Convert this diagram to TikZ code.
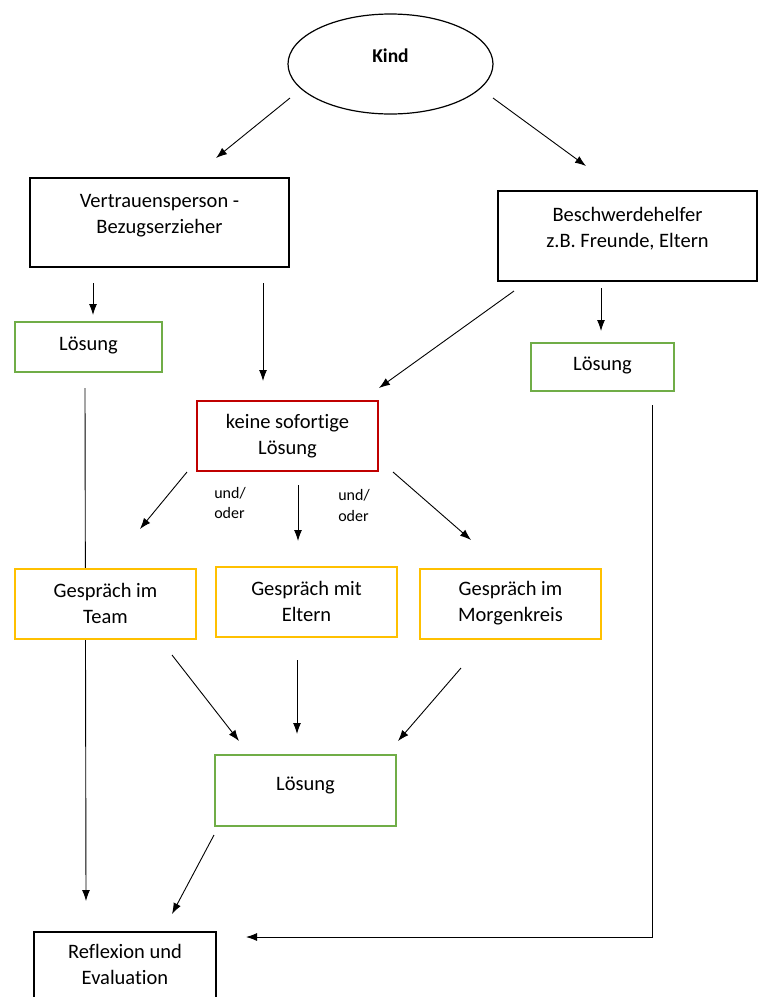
\documentclass[tikz,border=0pt]{standalone}
\usepackage{fontspec}
\setmainfont{Carlito}[Ligatures=NoCommon]
\usetikzlibrary{arrows.meta,shapes.geometric}
\definecolor{cgreen}{RGB}{112,173,71}
\definecolor{cgold}{RGB}{255,192,0}
\definecolor{cred}{RGB}{192,0,0}
\begin{document}
\begin{tikzpicture}[x=1pt,y=-1pt,
  bbox/.style={draw=black,line width=1.2pt,fill=white,inner sep=0pt},
  gbox/.style={draw=cgreen,line width=2.5pt,fill=white,inner sep=0pt},
  ybox/.style={draw=cgold,line width=2.5pt,fill=white,inner sep=0pt},
  rbox/.style={draw=cred,line width=2.3pt,fill=white,inner sep=0pt},
  txt/.style={font=\fontsize{20.5}{26}\selectfont,align=center,inner sep=0pt},
  smalltxt/.style={font=\fontsize{16}{20.5}\selectfont,align=left,inner sep=0pt},
  arr/.style={-{Latex[length=11pt,width=8pt]},line width=0.9pt},
  ln/.style={line width=0.9pt}]
\useasboundingbox (0,0) rectangle (762,997);
% free ends
\coordinate (a1s) at (290,98);  \coordinate (a1e) at (216,158);
\coordinate (a2s) at (493,98);  \coordinate (a2e) at (586,166);
\coordinate (a3s) at (93,283);  \coordinate (a3e) at (93,315);
\coordinate (a4s) at (263,283); \coordinate (a4e) at (263,381);
\coordinate (a5s) at (514,291); \coordinate (a5e) at (379,388);
\coordinate (a6s) at (601,288); \coordinate (a6e) at (601,331);
\coordinate (a7s) at (187,472); \coordinate (a7e) at (140,529);
\coordinate (a8s) at (298,485); \coordinate (a8e) at (298,541);
\coordinate (a9s) at (393,472); \coordinate (a9e) at (471,540);
\coordinate (b1s) at (172,655); \coordinate (b1e) at (239,741);
\coordinate (b2s) at (297,660); \coordinate (b2e) at (297,734);
\coordinate (b3s) at (461,668); \coordinate (b3e) at (398,741);
\coordinate (b4s) at (214,835); \coordinate (b4e) at (172,914);
\coordinate (lls) at (85,388);  \coordinate (lle) at (86,901);
\coordinate (rls) at (652,405); \coordinate (rlc) at (652,937); \coordinate (rle) at (246,937);
% long lines first (behind boxes)
\draw[arr] (lls) -- (lle);
\draw[arr] (rls) -- (rlc) -- (rle);
% ellipse
\node[draw=black,line width=1.2pt,ellipse,minimum width=205pt,minimum height=100pt,inner sep=0pt] (kind) at (390.5,64) {};
\node[txt,font=\fontsize{19.5}{26}\selectfont\bfseries] (kindt) at (390.5,56) {Kind};
% boxes
\node[bbox,minimum width=259pt,minimum height=89pt] (vp) at (159.5,222.5) {};
\node[txt] (vpt) at (159.5,216) {Vertrauensperson -\\Bezugserzieher};
\node[bbox,minimum width=259pt,minimum height=90pt] (bh) at (627.5,236) {};
\node[txt] (bht) at (627.5,229) {Beschwerdehelfer\\z.B. Freunde, Eltern};
\node[gbox,minimum width=147pt,minimum height=50pt] (l1) at (88.5,347) {};
\node[txt] (l1t) at (88.5,345) {Lösung};
\node[gbox,minimum width=143pt,minimum height=48pt] (l2) at (602.5,367) {};
\node[txt] (l2t) at (602.5,365) {Lösung};
\node[rbox,minimum width=181pt,minimum height=70pt] (ks) at (287.5,436) {};
\node[txt] (kst) at (287.5,436) {keine sofortige\\Lösung};
\node[smalltxt] (uo1) at (230,503) {und/\\oder};
\node[smalltxt] (uo2) at (354,505.5) {und/\\oder};
\node[ybox,minimum width=181pt,minimum height=70pt] (gt) at (105.5,604) {};
\node[txt] (gtt) at (105.5,603.5) {Gespräch im\\Team};
\node[ybox,minimum width=181pt,minimum height=70pt] (ge) at (306.5,602) {};
\node[txt] (get) at (306.5,601.5) {Gespräch mit\\Eltern};
\node[ybox,minimum width=181pt,minimum height=70pt] (gm) at (510.5,604) {};
\node[txt] (gmt) at (510.5,603.5) {Gespräch im\\Morgenkreis};
\node[gbox,minimum width=181pt,minimum height=71pt] (l3) at (305.5,790.5) {};
\node[txt] (l3t) at (305.5,785) {Lösung};
\node[bbox,minimum width=182pt,minimum height=80pt] (re) at (125,972) {};
\node[txt] (ret) at (125,964) {Reflexion und\\Evaluation};
% arrows
\draw[arr] (a1s) -- (a1e);
\draw[arr] (a2s) -- (a2e);
\draw[arr] (a3s) -- (a3e);
\draw[arr] (a4s) -- (a4e);
\draw[arr] (a5s) -- (a5e);
\draw[arr] (a6s) -- (a6e);
\draw[arr] (a7s) -- (a7e);
\draw[arr] (a8s) -- (a8e);
\draw[arr] (a9s) -- (a9e);
\draw[arr] (b1s) -- (b1e);
\draw[arr] (b2s) -- (b2e);
\draw[arr] (b3s) -- (b3e);
\draw[arr] (b4s) -- (b4e);
\end{tikzpicture}
\end{document}
